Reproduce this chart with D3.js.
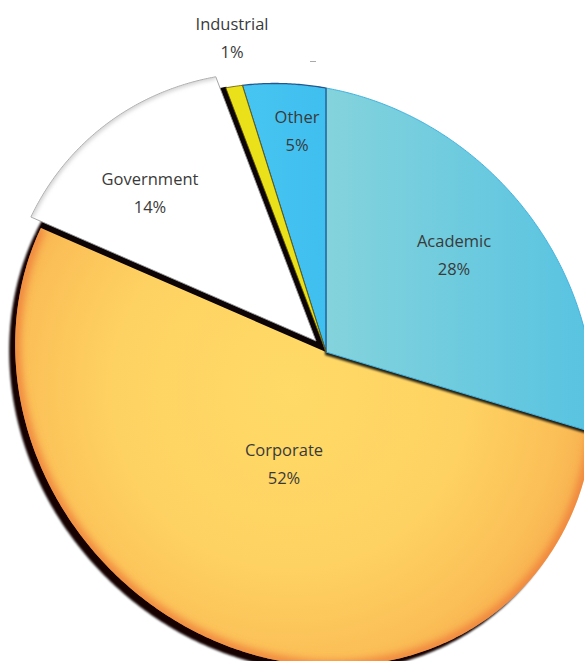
<!DOCTYPE html>
<html><head><meta charset="utf-8">
<script src="https://cdn.jsdelivr.net/npm/d3@7"></script>
<style>html,body{margin:0;padding:0;background:#fff;} svg{display:block;}</style>
</head><body>
<svg id="chart" width="584" height="661"></svg>
<script>
// ---- data ----
const categories = ["Academic", "Corporate", "Government", "Industrial", "Other"];
const shares = [28, 52, 14, 1, 5];
const percentLabels = ["28%", "52%", "14%", "1%", "5%"];

// ---- layout / style (not data) ----
const W = 584, H = 661;
const apex = [326, 352];
const radius = 286.8, shear = 0.11, persp = [0.083, -0.0865];
const explodeOffset = { Government: [-10, -11] };
const labelAt = {
  Academic: [454, 247], Corporate: [284, 456], Government: [150, 185],
  Industrial: [232, 30], Other: [297, 123]
};
const lineGap = 28;

// perspective-like warp of the unit pie disc
function warp(theta, f) {
  const ux = Math.sin(theta) * f, uy = -Math.cos(theta) * f;
  const vx = ux, vy = shear * ux + uy;
  const w = 1 + persp[0] * vx + persp[1] * vy;
  return [apex[0] + radius * vx / w, apex[1] + radius * vy / w];
}

const pie = d3.pie().sort(null).value(i => shares[i]);
const arcs = pie(d3.range(categories.length));

function rimPoints(d) {
  const n = Math.max(3, Math.ceil((d.endAngle - d.startAngle) / 0.008));
  return d3.range(n + 1).map(i => warp(d.startAngle + (d.endAngle - d.startAngle) * i / n, 1));
}
function slicePoints(d) { return [warp(0, 0)].concat(rimPoints(d)); }
const closed = d3.line().curve(d3.curveLinearClosed);
const open = d3.line();

const svg = d3.select("#chart");
svg.append("rect").attr("width", W).attr("height", H).attr("fill", "#fff");
const defs = svg.append("defs");

function blur(id, sd) {
  defs.append("filter").attr("id", id).attr("x", "-20%").attr("y", "-20%")
    .attr("width", "140%").attr("height", "140%")
    .append("feGaussianBlur").attr("stdDeviation", sd);
}
blur("b1", 1.2); blur("b2", 2); blur("b4", 4);

const gA = defs.append("linearGradient").attr("id", "gA").attr("gradientUnits", "userSpaceOnUse")
  .attr("x1", 326).attr("y1", 0).attr("x2", 590).attr("y2", 0);
gA.append("stop").attr("offset", 0).attr("stop-color", "#84d3dc");
gA.append("stop").attr("offset", 1).attr("stop-color", "#58c3e1");

const gC = defs.append("radialGradient").attr("id", "gC").attr("gradientUnits", "userSpaceOnUse")
  .attr("cx", 290).attr("cy", 390).attr("r", 320);
gC.append("stop").attr("offset", 0).attr("stop-color", "#ffda67");
gC.append("stop").attr("offset", 0.55).attr("stop-color", "#fed262");
gC.append("stop").attr("offset", 0.85).attr("stop-color", "#fbbf57");
gC.append("stop").attr("offset", 1).attr("stop-color", "#f6aa4d");

const gO = defs.append("linearGradient").attr("id", "gO").attr("gradientUnits", "userSpaceOnUse")
  .attr("x1", 240).attr("y1", 0).attr("x2", 330).attr("y2", 0);
gO.append("stop").attr("offset", 0).attr("stop-color", "#47c5f2");
gO.append("stop").attr("offset", 1).attr("stop-color", "#3fbfef");

const fills = { Academic: "url(#gA)", Corporate: "url(#gC)", Government: "#ffffff", Industrial: "#ebe11b", Other: "url(#gO)" };
const strokes = { Academic: "#3fb3e2", Corporate: "none", Government: "#9a9a9a", Industrial: "#5e5200", Other: "#23588e" };
const strokeW = { Academic: 1, Corporate: 0, Government: 0.9, Industrial: 0.8, Other: 1.3 };

arcs.forEach(d => {
  defs.append("clipPath").attr("id", "clip" + d.data)
    .append("path").attr("d", closed(slicePoints(d)));
});

// drop shadow of whole (unexploded) pie
svg.append("g").attr("transform", "translate(-6,6)").attr("filter", "url(#b1)")
  .selectAll("path").data(arcs).join("path")
  .attr("d", d => closed(slicePoints(d))).attr("fill", "#120404");
// unexploded shadow of exploded slices (gap walls)
svg.append("g").selectAll("path").data(arcs.filter(d => explodeOffset[categories[d.data]])).join("path")
  .attr("d", d => closed(slicePoints(d))).attr("fill", "#0d0505")
  .attr("stroke", "#0d0505").attr("stroke-width", 2);

const drawOrder = ["Corporate", "Academic", "Other", "Industrial", "Government"];
drawOrder.forEach(name => {
  const d = arcs.find(a => categories[a.data] === name);
  const off = explodeOffset[name] || [0, 0];
  const g = svg.append("g").attr("transform", `translate(${off[0]},${off[1]})`);
  if (name === "Academic") {
    g.append("path").attr("d", closed(slicePoints(d))).attr("fill", "#000")
      .attr("opacity", 0.85).attr("transform", "translate(-1,3)").attr("filter", "url(#b1)");
  }
  g.append("path").attr("class", "slice").attr("d", closed(slicePoints(d)))
    .attr("fill", fills[name]).attr("stroke", strokes[name]).attr("stroke-width", strokeW[name])
    .attr("stroke-linejoin", "round");
  if (name === "Corporate") {
    g.append("g").attr("clip-path", "url(#clip" + d.data + ")")
      .append("path").attr("d", open(rimPoints(d))).attr("fill", "none")
      .attr("stroke", "#ee7e3a").attr("stroke-width", 9).attr("filter", "url(#b4)");
  }
  if (name === "Government") {
    g.append("g").attr("clip-path", "url(#clip" + d.data + ")")
      .append("path").attr("d", open(rimPoints(d))).attr("fill", "none")
      .attr("stroke", "#c8c8c8").attr("stroke-width", 4).attr("filter", "url(#b2)");
  }
});

// labels
const lab = svg.append("g").attr("font-family", "'Open Sans', 'Noto Sans', sans-serif")
  .attr("font-size", 16.5).attr("fill", "#3a3a3a").attr("text-anchor", "middle");
arcs.forEach(d => {
  const name = categories[d.data];
  const p = labelAt[name];
  lab.append("text").attr("x", p[0]).attr("y", p[1]).text(name);
  lab.append("text").attr("x", p[0]).attr("y", p[1] + lineGap).text(percentLabels[d.data]);
});
// small leader remnant
svg.append("line").attr("x1", 310).attr("x2", 316).attr("y1", 61.5).attr("y2", 61.5)
  .attr("stroke", "#aaa").attr("stroke-width", 1);
</script>
</body></html>
